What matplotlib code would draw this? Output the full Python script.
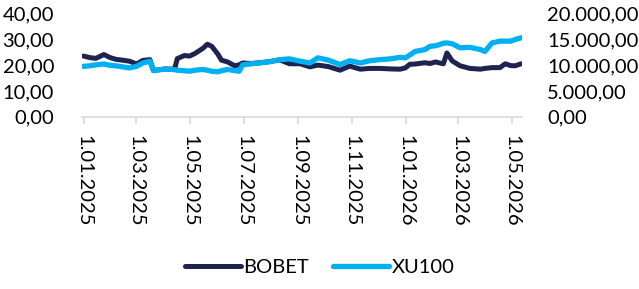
import matplotlib
matplotlib.use("Agg")
import matplotlib.pyplot as plt
import matplotlib.dates as mdates
from matplotlib.ticker import FuncFormatter, MultipleLocator
import pandas as pd

# ---- data ----
dates = pd.to_datetime([
    "2025-01-01", "2025-01-08", "2025-01-15", "2025-01-24", "2025-01-31",
    "2025-02-07", "2025-02-14", "2025-02-22", "2025-03-02", "2025-03-09",
    "2025-03-17", "2025-03-21", "2025-03-28", "2025-04-04", "2025-04-11",
    "2025-04-14", "2025-04-17", "2025-04-25", "2025-05-01", "2025-05-07",
    "2025-05-16", "2025-05-21", "2025-05-26", "2025-06-02", "2025-06-06",
    "2025-06-13", "2025-06-21", "2025-06-26", "2025-06-30", "2025-07-10",
    "2025-07-19", "2025-07-30", "2025-08-11", "2025-08-22", "2025-09-03",
    "2025-09-14", "2025-09-23", "2025-10-05", "2025-10-18", "2025-10-29",
    "2025-11-10", "2025-11-21", "2025-12-02", "2025-12-14", "2025-12-25",
    "2025-12-31", "2026-01-05", "2026-01-11", "2026-01-22", "2026-01-28",
    "2026-02-03", "2026-02-08", "2026-02-12", "2026-02-16", "2026-02-22",
    "2026-03-03", "2026-03-14", "2026-03-26", "2026-03-31", "2026-04-08",
    "2026-04-17", "2026-04-23", "2026-04-29", "2026-05-04", "2026-05-11",
])

bobet = [
    23.6, 23.0, 22.7, 24.2, 23.0,
    22.3, 22.0, 21.6, 20.5, 21.9,
    22.2, 18.0, 18.3, 18.6, 18.5,
    18.6, 22.6, 23.8, 23.6, 24.6,
    26.6, 28.2, 27.4, 24.3, 22.0,
    21.3, 19.8, 20.2, 20.9, 20.7,
    21.0, 21.4, 22.1, 20.6, 20.6,
    19.4, 20.1, 19.5, 18.1, 19.7,
    18.5, 18.8, 18.8, 18.6, 18.5,
    19.0, 20.4, 20.5, 21.0, 20.7,
    21.3, 20.9, 20.6, 24.8, 21.7,
    19.8, 18.8, 18.5, 18.8, 19.1,
    19.1, 20.6, 19.9, 19.8, 20.6,
]

xu100 = [
    9800, 9900, 10100, 10250, 10000,
    9900, 9700, 9500, 9800, 10450,
    10800, 8950, 9150, 9250, 9200,
    9150, 9050, 8950, 8850, 9050,
    9200, 9050, 8850, 8750, 8950,
    9200, 8950, 8850, 10100, 10300,
    10450, 10700, 11100, 11250, 10800,
    10450, 11450, 11000, 10150, 10900,
    10450, 10900, 11100, 11250, 11550,
    11450, 12000, 12700, 13050, 13700,
    13800, 14050, 14300, 14350, 14200,
    13400, 13500, 13050, 12700, 14350,
    14700, 14700, 14700, 15000, 15350,
]

tick_dates = pd.date_range("2025-01-01", "2026-05-01", freq="2MS")

NAVY = "#1e2350"
BLUE = "#00b0f0"
GRID = "#d9d9d9"

plt.rcParams['font.family'] = ['Lato', 'DejaVu Sans']
FS = 14.5

def tr_fmt(v, pos=None):
    s = f"{v:,.2f}"
    return s.replace(",", "X").replace(".", ",").replace("X", ".")

fig = plt.figure(figsize=(6.39, 2.89), dpi=100)
ax = fig.add_axes([0.128, 0.596, 0.689, 0.356])
ax2 = ax.twinx()

l1, = ax.plot(dates, bobet, color=NAVY, lw=3.6, solid_capstyle='round', label="BOBET")
l2, = ax2.plot(dates, xu100, color=BLUE, lw=3.8, solid_capstyle='round', label="XU100")

ax.set_ylim(0, 40)
ax2.set_ylim(0, 20000)
ax.yaxis.set_major_locator(MultipleLocator(10))
ax2.yaxis.set_major_locator(MultipleLocator(5000))
ax.yaxis.set_major_formatter(FuncFormatter(tr_fmt))
ax2.yaxis.set_major_formatter(FuncFormatter(tr_fmt))

ax.set_xlim(pd.Timestamp("2024-12-30"), pd.Timestamp("2026-05-12"))
ax.set_xticks(tick_dates)
ax.xaxis.set_major_formatter(FuncFormatter(
    lambda v, pos: mdates.num2date(v).strftime("%d.%m.%Y").lstrip("0")))

for a in (ax, ax2):
    for sp in a.spines.values():
        sp.set_visible(False)
ax.spines['bottom'].set_visible(True)
ax.spines['bottom'].set_color(GRID)
ax.spines['bottom'].set_linewidth(1.2)

ax.tick_params(axis='y', length=0, pad=20, labelsize=FS, colors='black')
ax2.tick_params(axis='y', length=0, pad=18, labelsize=FS, colors='black')
ax.tick_params(axis='x', length=5, width=1.2, color=GRID, pad=8,
               labelsize=FS, labelrotation=-90)
for lab in ax.get_xticklabels():
    lab.set_va('top')
    lab.set_ha('center')

fig.legend([l1, l2], ["BOBET", "XU100"], loc='center', bbox_to_anchor=(0.5, 0.075),
           ncol=2, frameon=False, fontsize=FS, handlelength=2.8,
           handletextpad=0.1, columnspacing=1.2)

fig.savefig("out.png", dpi=100)
